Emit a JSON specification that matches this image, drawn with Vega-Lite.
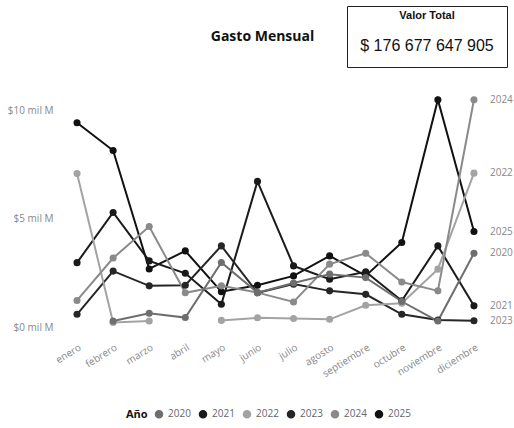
{
  "$schema": "https://vega.github.io/schema/vega-lite/v6.json",
  "autosize": {"type": "pad"},
  "padding": {"left": 7, "top": 5, "right": 0, "bottom": 0},
  "background": "white",
  "config": {"view": {"stroke": null}, "font": "Open Sans"},
  "spacing": 25,
  "vconcat": [
    {
      "spacing": 12,
      "hconcat": [
        {
          "width": 275,
          "height": 61,
          "data": {"values": [{"t": "Gasto Mensual"}]},
          "mark": {"type": "text", "fontWeight": "bold", "fontSize": 14, "dx": 66, "font": "Open Sans", "color": "#111"},
          "encoding": {"text": {"field": "t"}}
        },
        {
          "width": 160,
          "height": 61,
          "view": {"stroke": "#222", "strokeWidth": 1},
          "layer": [
            {
              "data": {"values": [{"t": "Valor Total"}]},
              "mark": {"type": "text", "fontWeight": "bold", "fontSize": 11, "dy": -21, "font": "Liberation Sans", "color": "#111"},
              "encoding": {"text": {"field": "t"}}
            },
            {
              "data": {"values": [{"t": "$ 176 677 647 905"}]},
              "mark": {"type": "text", "fontSize": 16, "dy": 9, "font": "Liberation Sans", "color": "#111"},
              "encoding": {"text": {"field": "t"}}
            }
          ]
        }
      ]
    },
    {
      "width": 433,
      "height": 240,
      "data": {"values": [
        {"mes": "enero", "anio": "2025", "valor": 9.43},
        {"mes": "febrero", "anio": "2025", "valor": 8.15},
        {"mes": "marzo", "anio": "2025", "valor": 2.7},
        {"mes": "abril", "anio": "2025", "valor": 3.53},
        {"mes": "mayo", "anio": "2025", "valor": 1.65},
        {"mes": "junio", "anio": "2025", "valor": 1.95},
        {"mes": "julio", "anio": "2025", "valor": 2.38},
        {"mes": "agosto", "anio": "2025", "valor": 3.3},
        {"mes": "septiembre", "anio": "2025", "valor": 2.38},
        {"mes": "octubre", "anio": "2025", "valor": 3.92},
        {"mes": "noviembre", "anio": "2025", "valor": 10.49},
        {"mes": "diciembre", "anio": "2025", "valor": 4.42},
        {"mes": "enero", "anio": "2021", "valor": 2.99},
        {"mes": "febrero", "anio": "2021", "valor": 5.3},
        {"mes": "marzo", "anio": "2021", "valor": 3.07},
        {"mes": "abril", "anio": "2021", "valor": 2.5},
        {"mes": "mayo", "anio": "2021", "valor": 1.07},
        {"mes": "junio", "anio": "2021", "valor": 6.73},
        {"mes": "julio", "anio": "2021", "valor": 2.84},
        {"mes": "agosto", "anio": "2021", "valor": 2.23},
        {"mes": "septiembre", "anio": "2021", "valor": 2.57},
        {"mes": "octubre", "anio": "2021", "valor": 1.23},
        {"mes": "noviembre", "anio": "2021", "valor": 3.76},
        {"mes": "diciembre", "anio": "2021", "valor": 1.0},
        {"mes": "enero", "anio": "2023", "valor": 0.61},
        {"mes": "febrero", "anio": "2023", "valor": 2.6},
        {"mes": "marzo", "anio": "2023", "valor": 1.92},
        {"mes": "abril", "anio": "2023", "valor": 1.95},
        {"mes": "mayo", "anio": "2023", "valor": 3.76},
        {"mes": "junio", "anio": "2023", "valor": 1.6},
        {"mes": "julio", "anio": "2023", "valor": 2.0},
        {"mes": "agosto", "anio": "2023", "valor": 1.69},
        {"mes": "septiembre", "anio": "2023", "valor": 1.53},
        {"mes": "octubre", "anio": "2023", "valor": 0.61},
        {"mes": "noviembre", "anio": "2023", "valor": 0.35},
        {"mes": "diciembre", "anio": "2023", "valor": 0.31},
        {"mes": "enero", "anio": "2022", "valor": 7.09},
        {"mes": "febrero", "anio": "2022", "valor": 0.23},
        {"mes": "marzo", "anio": "2022", "valor": 0.3},
        {"mes": "abril", "anio": "2022", "valor": null},
        {"mes": "mayo", "anio": "2022", "valor": 0.33},
        {"mes": "junio", "anio": "2022", "valor": 0.45},
        {"mes": "julio", "anio": "2022", "valor": 0.42},
        {"mes": "agosto", "anio": "2022", "valor": 0.38},
        {"mes": "septiembre", "anio": "2022", "valor": 1.03},
        {"mes": "octubre", "anio": "2022", "valor": 1.12},
        {"mes": "noviembre", "anio": "2022", "valor": 2.69},
        {"mes": "diciembre", "anio": "2022", "valor": 7.11},
        {"mes": "enero", "anio": "2024", "valor": 1.25},
        {"mes": "febrero", "anio": "2024", "valor": 3.2},
        {"mes": "marzo", "anio": "2024", "valor": 4.65},
        {"mes": "abril", "anio": "2024", "valor": 1.6},
        {"mes": "mayo", "anio": "2024", "valor": 1.92},
        {"mes": "junio", "anio": "2024", "valor": 1.61},
        {"mes": "julio", "anio": "2024", "valor": 1.18},
        {"mes": "agosto", "anio": "2024", "valor": 2.92},
        {"mes": "septiembre", "anio": "2024", "valor": 3.42},
        {"mes": "octubre", "anio": "2024", "valor": 2.1},
        {"mes": "noviembre", "anio": "2024", "valor": 1.69},
        {"mes": "diciembre", "anio": "2024", "valor": 10.49},
        {"mes": "febrero", "anio": "2020", "valor": 0.3},
        {"mes": "marzo", "anio": "2020", "valor": 0.66},
        {"mes": "abril", "anio": "2020", "valor": 0.46},
        {"mes": "mayo", "anio": "2020", "valor": 3.0},
        {"mes": "junio", "anio": "2020", "valor": 1.61},
        {"mes": "julio", "anio": "2020", "valor": 2.05},
        {"mes": "agosto", "anio": "2020", "valor": 2.46},
        {"mes": "septiembre", "anio": "2020", "valor": 2.3},
        {"mes": "octubre", "anio": "2020", "valor": 1.2},
        {"mes": "noviembre", "anio": "2020", "valor": 0.3},
        {"mes": "diciembre", "anio": "2020", "valor": 3.42}
      ]},
      "encoding": {
        "x": {
          "field": "mes", "type": "ordinal",
          "sort": ["enero", "febrero", "marzo", "abril", "mayo", "junio", "julio", "agosto", "septiembre", "octubre", "noviembre", "diciembre"],
          "scale": {"type": "point", "padding": 0.5},
          "axis": {"title": null, "labelAngle": -32, "domain": false, "ticks": false, "labelColor": "#888", "labelFontSize": 10, "labelPadding": 9}
        },
        "y": {
          "field": "valor", "type": "quantitative",
          "scale": {"domain": [-0.25, 10.8], "nice": false, "zero": false},
          "axis": {"title": null, "values": [0, 5, 10], "labelExpr": "'$' + datum.value + ' mil M'", "domain": false, "ticks": false, "grid": false, "labelColor": "#888", "labelFontSize": 10, "labelPadding": 6}
        },
        "color": {
          "field": "anio", "type": "nominal",
          "scale": {"domain": ["2020", "2021", "2022", "2023", "2024", "2025"], "range": ["#6e6e6e", "#1a1a1a", "#a3a3a3", "#262626", "#8a8a8a", "#111111"]},
          "legend": {"title": "Año", "orient": "none", "legendX": 67, "legendY": 403, "direction": "horizontal", "titleOrient": "left", "symbolType": "circle", "symbolSize": 50, "labelFontSize": 10, "titleFontSize": 11, "titleFontWeight": "bold", "labelColor": "#666", "titleColor": "#111", "columnPadding": 5, "titlePadding": 6}
        }
      },
      "layer": [
        {"mark": {"type": "line", "strokeWidth": 2, "invalid": "break-paths-filter-domains"}},
        {"mark": {"type": "circle", "size": 50, "opacity": 1}},
        {
          "transform": [{"filter": "datum.mes === 'diciembre'"}],
          "mark": {"type": "text", "align": "left", "dx": 16, "fontSize": 10},
          "encoding": {"text": {"field": "anio"}, "color": {"value": "#888"}}
        }
      ]
    }
  ]
}
